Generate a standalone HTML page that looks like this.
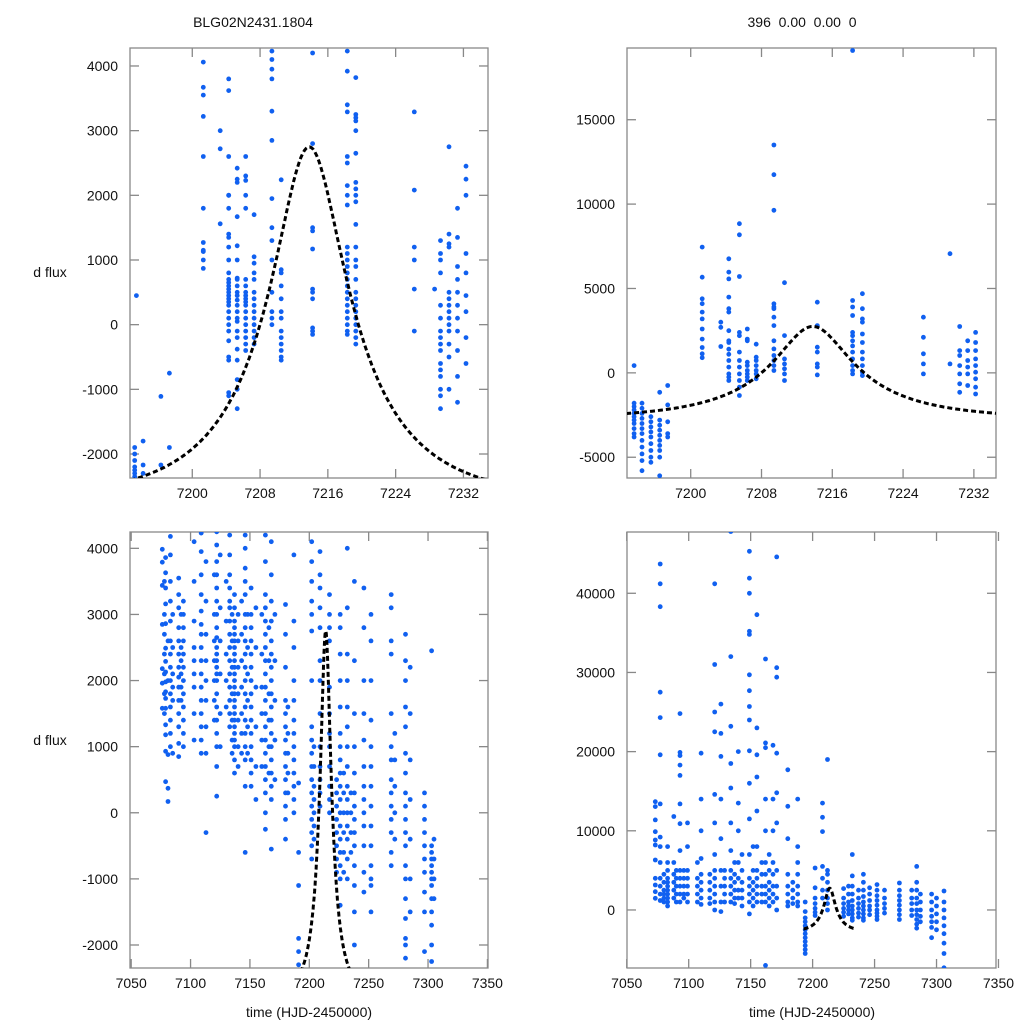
<!DOCTYPE html>
<html><head><meta charset="utf-8"><style>
html,body{margin:0;padding:0;background:#fff;}
svg text{font-family:"Liberation Sans",sans-serif;fill:#111;}
</style></head><body>
<svg id="chart" width="1024" height="1024" viewBox="0 0 1024 1024" xmlns="http://www.w3.org/2000/svg">
<rect width="1024" height="1024" fill="#fff"/>
<text x="253" y="27" font-size="14" text-anchor="middle">BLG02N2431.1804</text>
<text x="802" y="27" font-size="14" text-anchor="middle" xml:space="preserve">396  0.00  0.00  0</text>
<text x="50" y="277" font-size="14" text-anchor="middle">d flux</text>
<text x="50" y="745" font-size="14" text-anchor="middle">d flux</text>
<text x="309" y="1017" font-size="14" text-anchor="middle">time (HJD-2450000)</text>
<text x="812" y="1017" font-size="14" text-anchor="middle">time (HJD-2450000)</text>
</svg>
<script>
// ---- data ----
const modelT0 = 7213.8, modelTE = 15, modelU0 = 0.3, modelFs = 2246, modelBase = -4987;
const modelRange = [7192.7, 7234.6];

const tlTicksX = [7200, 7208, 7216, 7224, 7232];
const tlTicksY = [-2000, -1000, 0, 1000, 2000, 3000, 4000];
const trTicksY = [-5000, 0, 5000, 10000, 15000];
const blTicksX = [7050, 7100, 7150, 7200, 7250, 7300, 7350];
const blTicksY = [-2000, -1000, 0, 1000, 2000, 3000, 4000];
const brTicksY = [0, 10000, 20000, 30000, 40000];

const tlData = [
 [7193.2,[-2100,-2200,-2300,-2350,-2250,-1900,-2000]],[7193.4,[450]],
 [7194.2,[-1800,-2170,-2300]],[7196.3,[-1110,-2170]],[7197.3,[-750,-1900]],
 [7201.3,[4060,3670,3550,3220,2600,1800,1270,1150,1130,1000,870]],
 [7203.3,[3000,2720,1560]],
 [7204.3,[3800,3620,2600,2000,2000,1800,1400,1350,1200,1000,800,700,650,600,550,500,450,400,350,300,200,100,0,-100,-250,-500,-550,-1100,-1050]],
 [7205.3,[2420,2250,2200,1670,1220,1000,720,700,600,500,450,380,300,200,100,50,-100,-200,-380,-550,-850,-1000,-1300]],
 [7206.3,[2600,2300,2230,2000,1800,700,600,500,450,400,350,300,200,100,0,-100,-200,-300,-400]],
 [7207.3,[1700,1050,950,800,700,500,400,300,200,100,0,-100,-200,-300]],
 [7209.4,[4230,4100,3950,3800,3300,2850,1950,1500,1300,1000,500,200,100,0]],
 [7210.5,[2240,850,800,600,400,200,100,-100,-200,-300,-400,-500,-550]],
 [7214.2,[4200,2800,1500,1450,1170,550,500,400,-50,-100,-150]],
 [7218.3,[4230,3920,3400,3290,2600,2500,2150,2000,1850,1200,1100,1000,900,800,700,600,500,400,300,200,100,0,-100,-150]],
 [7219.3,[3820,3250,3200,3150,3000,2650,2200,2100,2000,1900,1550,1200,1000,900,700,500,400,300,200,100,0,-100,-200,-300]],
 [7226.2,[3290,2080,1200,1000,550,-100]],[7228.6,[550]],
 [7229.3,[1300,1000,1100,800,300,100,-100,-200,-300,-400,-600,-700,-800,-1000,-1100,-1300]],
 [7230.3,[2750,1400,1200,1250,500,400,300,200,100,0,-100,-300,-500,-1000]],
 [7231.3,[1800,1350,900,700,500,300,100,-100,-400,-800,-1200]],
 [7232.3,[2450,2250,2000,1100,800,450,200,-200,-600]]
];

const trData = [
 [7193.6,[430,-1800,-2000,-2200,-2400,-2600,-2800,-3000,-3300,-3600,-3800]],
 [7194.5,[-1800,-2100,-2400,-2700,-3000,-3300,-3600,-4000,-4400,-4800,-5200,-5800]],
 [7195.5,[-2600,-2900,-3200,-3500,-3800,-4200,-4600,-5000,-5300]],
 [7196.5,[-1150,-2800,-3100,-3400,-3700,-4000,-4300,-4600,-5000,-6100]],
 [7197.4,[-750,-1900,-2900,-3600,-3800]],
 [7201.3,[7450,5670,4390,4100,3600,3200,2600,2000,1500,1130,900]],
 [7203.4,[3000,2700,1560]],
 [7204.3,[6760,5970,5570,4490,3800,3600,2500,1900,1800,1400,1100,730,340,-60,-250,-450]],
 [7205.5,[8840,8180,5710,2400,2200,1230,730,340,-60,-450,-850,-1340]],
 [7206.4,[2600,2000,1900,630,430,140,-60,-250,-450]],
 [7207.4,[1700,930,730,430,140,-60,-350]],
 [7209.4,[13500,11740,9630,4090,3900,3800,3300,2800,1900,1420,1030,730,430,140]],
 [7210.6,[5340,2210,830,530,240,-60,-450]],
 [7214.3,[4190,2800,1520,1230,530,340,-120]],
 [7218.3,[19100,4290,3900,3400,2400,2200,1900,1600,1230,830,430,140,-60]],
 [7219.4,[4690,3800,3200,3000,2300,1800,1230,830,430,40,-160]],
 [7226.3,[3300,2110,1130,530,-60]],
 [7229.3,[7060,530]],
 [7230.4,[2750,1320,1030,430,-60,-650,-1150]],
 [7231.3,[1900,1320,730,340,-60,-750]],
 [7232.2,[2400,1800,1320,830,430,40,-350,-850,-1250]]
];

const blData = [
 [7076.2,[3985,3790,3440,2850,2180,1960,1580]],
 [7078,[3500,3000,2700,2400,2100,1800,1500]],
 [7079,[3860,3630,3400,3160,2860,2490,2290,2130,1980,1830,1730,1580,1330,1180,930,470]],
 [7081,[880,370,170,2600,2000]],
 [7083,[4180,3900,3500,3200,2900,2600,2400,2200,2000,1800,1600,1400,1200,1000]],
 [7085,[1700,1900,2100,900,2500,3000]],
 [7090,[3550,3300,3100,2800,2600,2400,2200,2050,1900,1700,1500,1300,1050,850]],
 [7092,[3000,2500,2300,2100,1900,1700]],
 [7094,[3200,3000,2800,2600,2400,2200,2000,1800,1600,1400,1200,1000]],
 [7103,[4100,3500,2900,2500,2300,2100,1900,1500,1100]],
 [7109,[4230,3950,3600,3300,3050,2850,2700,2500,2300,2100,1900,1700,1500,1300,1100,900]],
 [7113,[3800,3200,2700,2300,2000,1700,1300,900,-300]],
 [7120,[3600,3000,2600,2300,2000,1700,1400]],
 [7122,[4250,4050,3800,3600,3400,3200,3000,2800,2650,2500,2400,2300,2200,2100,2000,1800,1600,1400,1200,1000,700,250]],
 [7125,[3900,3100,2600,2100,1500,1000]],
 [7130,[3500,2900,2400,2000,1600]],
 [7133,[4200,3900,3600,3400,3200,3100,2900,2700,2500,2300,2100,1900,1700,1500,1300]],
 [7135,[3000,2600,2200,1800,1400,1100,900]],
 [7137,[3300,3100,2900,2800,2700,2600,2500,2400,2300,2200,2100,2000,1900,1800,1700,1600,1500,1400,1300,1200,1100,1000,800,600]],
 [7140,[3000,2600,2200,1800,1400,1000,700]],
 [7143,[3200,2700,2300,1900,1500,1200,900]],
 [7146,[4200,4000,3700,3500,3300,3000,2800,2600,2400,2200,2000,1800,1600,1400,1200,1000,800,400,-600]],
 [7148,[3000,2500,2100,1700,1300,900]],
 [7151,[3400,3000,2800,2600,2400,2200,2000,1800,1600,1400,1200,1000,800,600,400]],
 [7155,[3100,2500,1900,1300,700,200]],
 [7160,[3000,2400,1900,1500,1100,700]],
 [7163,[4200,3800,3300,3100,2900,2700,2500,2300,2100,1900,1700,1500,1300,1100,900,700,500,300,0,-250]],
 [7166,[2800,2300,1800,1400,1000,600]],
 [7168,[4100,3600,3200,2900,2600,2400,2200,2000,1800,1600,1400,1200,1000,800,600,400,200,-550]],
 [7171,[3000,2300,1700,1100,500]],
 [7180,[3150,2700,2200,1700,1500,1300,1100,900,700,500,300,100,-100,-400]],
 [7182,[1600,1200,900,600,300]],
 [7187,[3900,2900,2500,2000,1700,1400,1200,1000,800,600,400,200,0]],
 [7191,[450,-600,-1100,-1900,-2100,-2300]],
 [7202,[4100,3800,3500,3200,3000,2750,2000,1300,1100,900,700,500,300,100,-100,-300,-500,-700]],
 [7204,[1000,700,400,200,0,-200,-400]],
 [7209,[4300,3950,3600,3400,3100,2800,2300,2000,1500,1000,700,500,300,100]],
 [7217,[3300,3000,2800,2600,1900,1500,1200,1000,700,400,200,0]],
 [7223,[500,300,100,-100,-300,-500,-700,-900]],
 [7226,[3000,2800,2400,2000,1600,1200,1000,800,600,400,200,0,-200,-400,-600,-800,-1000,-1400]],
 [7229,[600,300,0,-300,-600,-900]],
 [7232,[4000,3100,2400,2000,1600,1300,1000,700,400,200,0,-200,-400,-700,-1000]],
 [7235,[300,0,-300,-600]],
 [7238,[3500,2300,1500,1000,600,300,100,-100,-300,-500,-800,-1100,-1500,-2000]],
 [7246,[3400,2800,2000,1500,1100,700,400,200,0,-200,-500,-900,-1200]],
 [7252,[3000,2600,2000,1400,1000,700,400,100,-200,-500,-800,-1000,-1100,-1500]],
 [7269,[3300,3100,2600,2400,1500,1000,800,500,300,100,-100,-300,-600,-800]],
 [7272,[1200,800,400,0,-400]],
 [7281,[2700,2300,2000,1600,1300,900,600,300,100,-100,-300,-500,-800,-1000,-1300,-1600,-1900,-2000,-2200]],
 [7285,[2200,1500,800,200,-400,-1000,-1500]],
 [7297,[300,100,-100,-300,-500,-700,-900,-1200,-1500,-2100]],
 [7303,[2450,-500,-600,-700,-800,-900,-1000,-1100,-1300,-1500,-1700,-2000,-2250]],
 [7305,[-400,-700,-1000,-1300]]
];

const brData = [
 [7073,[13680,13050,11370,9890,8840,8210,6310,4000,3150,2310,1470]],
 [7077,[43700,41200,38300,27500,24300,19600,13400,9200,8000,6000,4000,3000,2000,1200]],
 [7080,[4500,3500,2500,2000,1500,1000]],
 [7083,[8000,6000,5000,4000,3500,3000,2500,2000,1500,1000,500]],
 [7088,[11800,6000,4500,3500,2500,1500]],
 [7090,[5000,4000,3000,2000,1000]],
 [7093,[24800,19900,19500,18300,17000,13400,10900,7500,5000,4000,3000,2000,1000]],
 [7096,[5000,4000,3000,2000,1500]],
 [7099,[11000,8000,5000,4000,3000,2000,1000]],
 [7107,[6000,4000,3000,2000,1000]],
 [7110,[19800,14000,10000,6500,4500,3500,2500,1500,700]],
 [7117,[4500,3500,2500,1500,800]],
 [7121,[41200,31000,25000,22500,14600,11000,7000,5000,4000,3000,2000,1000,0]],
 [7126,[26000,22300,19400,14000,9000,5000,3000,1000,-200]],
 [7129,[5000,4000,3000,2000,1000]],
 [7134,[47800,32000,23200,18500,15400,11000,7500,5000,4000,3000,2000,1000]],
 [7137,[6000,4500,3500,2500,1500,800]],
 [7140,[20000,13500,10000,6000,4000,2500,1500]],
 [7143,[7000,5000,3500,2500,1500,500]],
 [7149,[45300,41900,40000,35200,34800,29700,27700,25700,24000,20100,16000,11500,7000,4000,3000,2000,1000,-500]],
 [7152,[8000,5000,3500,2500,1500,500]],
 [7155,[37300,23000,19600,16800,12500,8000,5000,4000,3000,2000,1000]],
 [7159,[6000,4500,3000,2000,1000]],
 [7162,[31700,20500,21100,14000,10000,6000,4500,3000,2000,1000,-7000]],
 [7165,[7000,5000,3500,2500,1500,500]],
 [7168,[20800,14000,10000,6000,4500,3000,2000,1000]],
 [7171,[44600,30600,29400,19800,14800,11000,5000,3000,1500,0]],
 [7180,[17700,13100,9000,4500,3000,2000,1000,500]],
 [7184,[3500,2500,1500,800]],
 [7188,[14000,8000,6000,4500,3000,2000,1000,500]],
 [7194,[1000,-200,-1000,-1500,-2000,-2500,-3000,-3500,-4000,-4500,-5000,-5500]],
 [7202,[5300,2800,1500,800,200,-300,-700]],
 [7208,[13500,11700,9900,5500,4000,2500,1500]],
 [7212,[19000,5000,4500,3500,2500,1500,800,0]],
 [7225,[2700,1500,800,200,-300,-800]],
 [7229,[3000,2000,1000,500,0,-500]],
 [7232,[7000,4300,3000,2000,1200,500,0,-500,-1000,-1300]],
 [7237,[2500,1500,800,200,-400,-900]],
 [7241,[4500,3500,2500,1700,1000,500,0,-500,-1000,-1300]],
 [7246,[2800,2000,1200,500,0,-600]],
 [7252,[3200,2500,1800,1200,600,0,-400,-800,-1200]],
 [7258,[2500,1500,800,200,-400]],
 [7270,[3400,2500,1800,1200,600,0,-600,-1200]],
 [7280,[2500,1500,800,0,-700]],
 [7284,[5500,3500,2500,1500,800,0,-600,-1200,-1800,-2300]],
 [7287,[2000,1000,0,-800,-1500]],
 [7296,[2000,1000,0,-800,-1500,-2200,-3500]],
 [7300,[1500,500,-500,-1500,-2500]],
 [7306,[2400,1000,0,-1000,-2000,-3000,-4200,-5500,-7300]]
];

// ---- drawing ----
const NS = 'http://www.w3.org/2000/svg';
const svg = document.getElementById('chart');
function mk(tag, attrs, parent) {
  const e = document.createElementNS(NS, tag);
  for (const k in attrs) e.setAttribute(k, attrs[k]);
  (parent || svg).appendChild(e);
  return e;
}
function model(t) {
  const d = (t - modelT0) / modelTE;
  const u = Math.sqrt(modelU0 * modelU0 + d * d);
  const A = (u * u + 2) / (u * Math.sqrt(u * u + 4));
  return modelBase + modelFs * A;
}
function drawPanel(p) {
  const g = mk('g', {});
  
  
  const sx = t => p.x0 + (t - p.t0) / (p.t1 - p.t0) * (p.x1 - p.x0);
  const sy = f => p.y1 - (f - p.f0) / (p.f1 - p.f0) * (p.y1 - p.y0);
  const cid = 'clip-' + p.name;
  const cp = mk('clipPath', { id: cid }, g);
  mk('rect', { x: p.x0, y: p.y0, width: p.x1 - p.x0, height: p.y1 - p.y0 }, cp);
  const frame = mk('rect', { x: p.x0, y: p.y0, width: p.x1 - p.x0, height: p.y1 - p.y0, fill: 'none', stroke: '#888', 'stroke-width': 1.3 }, g);
  
  
  p.ticksX.forEach(v => {
    const x = sx(v);
    mk('line', { x1: x, x2: x, y1: p.y1, y2: p.y1 - 9, stroke: '#888', 'stroke-width': 1.3 }, g);
    mk('line', { x1: x, x2: x, y1: p.y0, y2: p.y0 + 9, stroke: '#888', 'stroke-width': 1.3 }, g);
    const tx = mk('text', { x: x, y: p.y1 + 20, 'font-size': 14, 'text-anchor': 'middle' }, g);
    tx.textContent = v;
    
    
  });
  p.ticksY.forEach(v => {
    const y = sy(v);
    mk('line', { x1: p.x0, x2: p.x0 + 9, y1: y, y2: y, stroke: '#888', 'stroke-width': 1.3 }, g);
    mk('line', { x1: p.x1, x2: p.x1 - 9, y1: y, y2: y, stroke: '#888', 'stroke-width': 1.3 }, g);
    const ty = mk('text', { x: p.x0 - 12, y: y + 5, 'font-size': 14, 'text-anchor': 'end' }, g);
    ty.textContent = v;
    
    
  });
  const pts = mk('g', { 'clip-path': 'url(#' + cid + ')', fill: '#1060f0' }, g);
  
  
  p.data.forEach(n => {
    n[1].forEach(f => {
      const c = mk('circle', { cx: sx(n[0]).toFixed(1), cy: sy(f).toFixed(1), r: 2.4 }, pts);
      
      
    });
  });
  let d = '';
  const N = 200;
  for (let i = 0; i <= N; i++) {
    const t = modelRange[0] + (modelRange[1] - modelRange[0]) * i / N;
    d += (i ? 'L' : 'M') + sx(t).toFixed(1) + ',' + sy(model(t)).toFixed(1);
  }
  const ml = mk('path', { d: d, fill: 'none', stroke: '#000', 'stroke-width': 3, 'stroke-dasharray': '5 3', 'clip-path': 'url(#' + cid + ')' }, g);
  
  
}
drawPanel({ name: 'panel-top-left', x0: 130, x1: 488, y0: 48, y1: 478, t0: 7192.65, t1: 7234.9, f0: -2371, f1: 4278, ticksX: tlTicksX, ticksY: tlTicksY, data: tlData });
drawPanel({ name: 'panel-top-right', x0: 627, x1: 996, y0: 48, y1: 478, t0: 7192.8, t1: 7234.5, f0: -6230, f1: 19250, ticksX: tlTicksX, ticksY: trTicksY, data: trData });
drawPanel({ name: 'panel-bottom-left', x0: 130, x1: 488, y0: 532, y1: 968, t0: 7049, t1: 7350.5, f0: -2348, f1: 4247, ticksX: blTicksX, ticksY: blTicksY, data: blData });
drawPanel({ name: 'panel-bottom-right', x0: 627, x1: 996, y0: 532, y1: 968, t0: 7050.2, t1: 7348, f0: -7330, f1: 47740, ticksX: blTicksX, ticksY: brTicksY, data: brData });
</script>
</body></html>
